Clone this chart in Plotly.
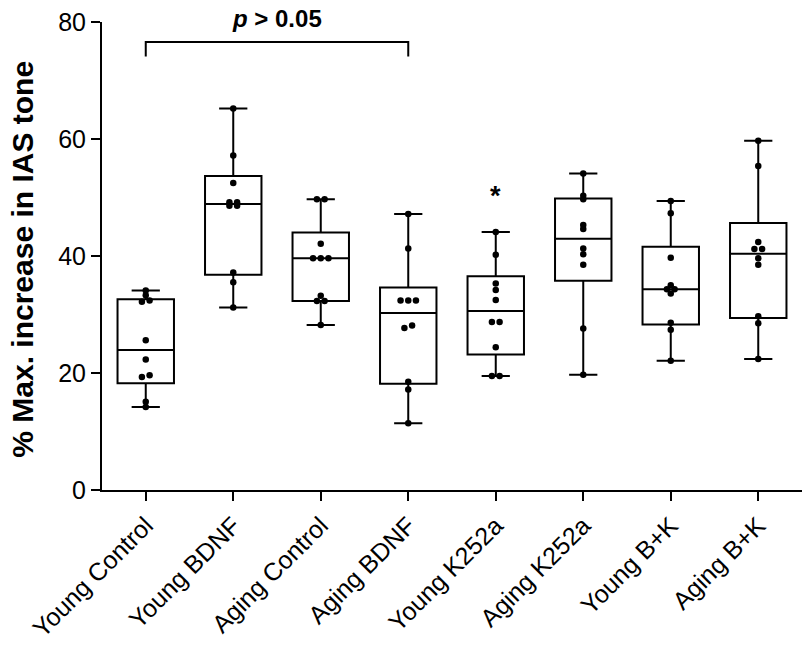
import numpy as np
import plotly.graph_objects as go

# ---------------- data ----------------
categories = ["Young Control", "Young BDNF", "Aging Control", "Aging BDNF",
              "Young K252a", "Aging K252a", "Young B+K", "Aging B+K"]

young_control = [34.1, 33.3, 32.4, 32.2, 25.6, 22.3, 19.6, 19.3, 15.1, 14.2]
young_bdnf = [65.2, 57.2, 52.5, 49.2, 49.2, 48.6, 48.6, 37.2, 35.5, 31.2]
aging_control = [49.7, 49.7, 42.1, 39.6, 39.6, 39.6, 33.2, 32.3, 32.3, 28.2]
aging_bdnf = [47.2, 41.3, 32.4, 32.4, 32.4, 28.1, 27.7, 18.5, 17.2, 11.4]
young_k252a = [44.1, 40.2, 35.3, 34.2, 32.5, 28.7, 28.7, 24.4, 19.5, 19.5]
aging_k252a = [54.1, 50.3, 49.7, 45.3, 44.6, 41.3, 40.3, 38.5, 27.6, 19.7]
young_bk = [49.4, 47.3, 39.7, 35.0, 34.3, 34.3, 33.6, 28.6, 27.4, 22.1]
aging_bk = [59.7, 55.4, 42.4, 41.2, 41.2, 39.6, 38.5, 29.7, 28.5, 22.4]

groups = [young_control, young_bdnf, aging_control, aging_bdnf,
          young_k252a, aging_k252a, young_bk, aging_bk]

y_ticks = [0, 20, 40, 60, 80]
y_title = "% Max. increase in IAS tone"
bracket_pair = ("Young Control", "Aging BDNF")
bracket_text = "<b><i>p</i> > 0.05</b>"
star_group = "Young K252a"

FONT = "Arial, Liberation Sans, Helvetica, sans-serif"


def swarm_offsets(vals, tol=0.45, step=0.088):
    vals = np.asarray(vals, dtype=float)
    order = np.argsort(vals, kind="stable")
    v = vals[order]
    offs = np.zeros(len(v))
    start = 0
    for k in range(1, len(v) + 1):
        if k == len(v) or v[k] - v[k - 1] > tol:
            n = k - start
            offs[start:k] = (np.arange(n) - (n - 1) / 2) * step
            start = k
    res = np.empty(len(v))
    res[order] = offs
    return res


fig = go.Figure()

for i, vals in enumerate(groups):
    arr = np.asarray(vals, dtype=float)
    q1, med, q3 = np.percentile(arr, [25, 50, 75], method="weibull")
    fig.add_trace(go.Box(
        x=[i], q1=[q1], median=[med], q3=[q3],
        lowerfence=[arr.min()], upperfence=[arr.max()],
        width=0.645, whiskerwidth=0.5,
        line=dict(color="black", width=2),
        fillcolor="rgba(0,0,0,0)",
        boxpoints=False, showlegend=False, hoverinfo="skip",
    ))
    fig.add_trace(go.Scatter(
        x=i + swarm_offsets(arr), y=arr, mode="markers",
        marker=dict(color="black", size=6.5),
        showlegend=False, cliponaxis=False,
    ))

# significance bracket
i0 = categories.index(bracket_pair[0])
i1 = categories.index(bracket_pair[1])
fig.add_trace(go.Scatter(
    x=[i0, i0, i1, i1], y=[74.1, 76.6, 76.6, 74.1], mode="lines",
    line=dict(color="black", width=2), showlegend=False,
    hoverinfo="skip", cliponaxis=False,
))
fig.add_annotation(x=(i0 + i1) / 2, y=1.0085, xref="x", yref="paper",
                   text=bracket_text, showarrow=False, yanchor="middle",
                   font=dict(family=FONT, size=24, color="black"))

# asterisk
fig.add_annotation(x=categories.index(star_group), y=50.3, xref="x", yref="y",
                   text="<b>*</b>", showarrow=False, yanchor="middle",
                   font=dict(family=FONT, size=27, color="black"))

# y-axis title
fig.add_annotation(x=-0.114, y=0.4925, xref="paper", yref="paper",
                   text="<b>" + y_title + "</b>", textangle=-90,
                   showarrow=False, xanchor="center", yanchor="middle",
                   font=dict(family=FONT, size=30, color="black"))

fig.update_layout(
    width=806, height=650,
    margin=dict(l=102, r=4, t=22, b=160),
    plot_bgcolor="white", paper_bgcolor="white",
    font=dict(family=FONT, color="black"),
    showlegend=False,
)
fig.update_xaxes(
    range=[-0.5, 7.5], tickmode="array",
    tickvals=list(range(len(categories))), ticktext=categories,
    tickangle=-45, ticks="outside", ticklen=9, tickwidth=2, tickcolor="black",
    showline=True, linewidth=2, linecolor="black",
    showgrid=False, zeroline=False, automargin=False,
    ticklabeloverflow="allow",
    tickfont=dict(family=FONT, size=25, color="black"),
)
fig.update_yaxes(
    range=[0, 80], tickmode="array", tickvals=y_ticks,
    ticks="outside", ticklen=9, tickwidth=2, tickcolor="black",
    showline=True, linewidth=2, linecolor="black",
    showgrid=False, zeroline=False, automargin=False,
    ticklabeloverflow="allow",
    tickfont=dict(family=FONT, size=25, color="black"),
)

# remove the browser's default 8px body margin so the figure sits at (0, 0)
fig.write_html("out.html",
               config={"displayModeBar": False, "staticPlot": True},
               post_script="document.body.style.margin='0';"
                           "document.body.style.overflow='hidden';")
